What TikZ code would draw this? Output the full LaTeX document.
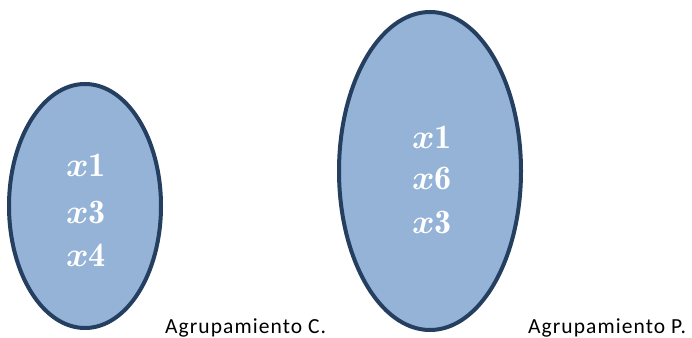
\documentclass[tikz,border=0pt]{standalone}
\usepackage{amsmath}
\usepackage{amssymb}
\usepackage{graphicx}
\usepackage{fontspec}
\newfontfamily\labelfont[LetterSpace=5]{Carlito}
\usetikzlibrary{shapes.geometric}
\definecolor{setfill}{RGB}{149,179,215}
\definecolor{setdraw}{RGB}{36,63,96}
\newcommand{\elemtext}[1]{\scalebox{1.65}{$\boldsymbol{x}\mathbf{#1}$}}
\begin{document}
\begin{tikzpicture}[x=1pt,y=1pt,
    setbox/.style={ellipse,draw=setdraw,fill=setfill,line width=4pt,inner sep=0pt},
    elem/.style={text=white,font=\huge},
    grouplabel/.style={anchor=base west,inner sep=0pt,font=\labelfont\fontsize{21.5}{21.5}\selectfont}]
    \useasboundingbox (0,0) rectangle (692,337);
    % conjuntos
    \node[setbox,minimum width=152pt,minimum height=244pt] (setC) at (85,131) {};
    \node[setbox,minimum width=182pt,minimum height=318pt] (setP) at (430,166) {};
    % elementos
    \node[elem] (c1) at (86,172) {\elemtext{1}};
    \node[elem] (c3) at (86,125) {\elemtext{3}};
    \node[elem] (c4) at (86,82) {\elemtext{4}};
    \node[elem] (p1) at (432,200) {\elemtext{1}};
    \node[elem] (p6) at (432,159) {\elemtext{6}};
    \node[elem] (p3) at (432,115) {\elemtext{3}};
    % etiquetas
    \node[grouplabel] (labC) at (165,4) {Agrupamiento C.};
    \node[grouplabel] (labP) at (528,4) {Agrupamiento P.};
\end{tikzpicture}
\end{document}
